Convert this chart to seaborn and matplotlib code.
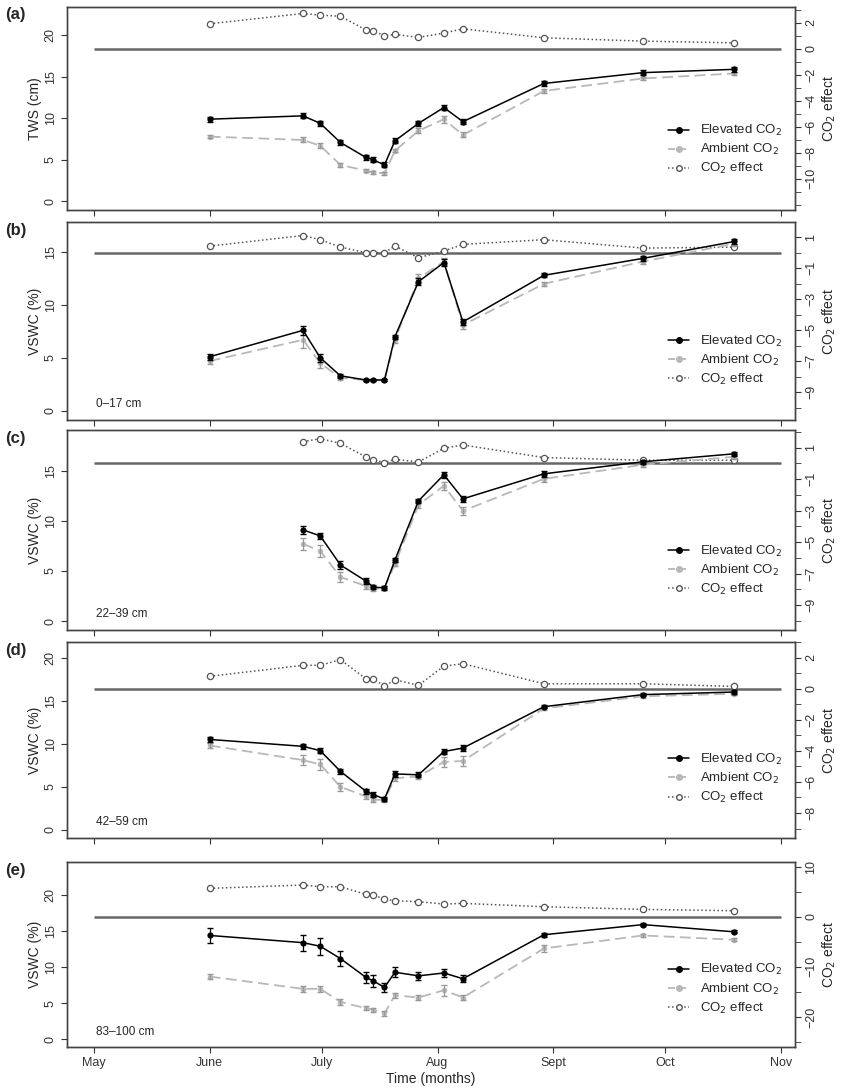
import numpy as np
import pandas as pd
import matplotlib
matplotlib.use("Agg")
import matplotlib.pyplot as plt
import seaborn as sns
from matplotlib.ticker import MultipleLocator

# sampling dates, days after 1 May
days = [31, 56, 60.6, 66, 72.8, 74.8, 77.8, 80.6, 86.9, 93.7, 98.8, 120.5, 147, 171.5]
month_days = [0, 31, 61, 92, 123, 153, 184]
month_labels = ["May", "June", "July", "Aug", "Sept", "Oct", "Nov"]

# (a) TWS
a_elev = [9.9, 10.3, 9.4, 7.1, 5.3, 5.0, 4.4, 7.3, 9.4, 11.3, 9.6, 14.2, 15.5, 15.9]
a_amb = [7.8, 7.4, 6.7, 4.4, 3.7, 3.5, 3.4, 6.1, 8.5, 9.9, 8.0, 13.3, 14.8, 15.4]
a_eff = [1.92, 2.71, 2.58, 2.5, 1.45, 1.37, 1.0, 1.1, 0.87, 1.2, 1.53, 0.84, 0.58, 0.45]
a_err_e = [0.3, 0.3, 0.3, 0.3, 0.3, 0.3, 0.3, 0.3, 0.3, 0.3, 0.3, 0.3, 0.3, 0.3]
a_err_a = [0.2, 0.3, 0.3, 0.2, 0.2, 0.2, 0.2, 0.2, 0.3, 0.4, 0.3, 0.2, 0.2, 0.2]

# (b) 0-17 cm
b_elev = [5.1, 7.6, 5.0, 3.3, 2.9, 2.9, 2.9, 7.0, 12.2, 14.0, 8.4, 12.8, 14.4, 16.0]
b_amb = [4.7, 6.7, 4.5, 3.1, 2.9, 2.9, 2.9, 6.7, 12.5, 14.1, 8.1, 12.0, 14.1, 15.8]
b_eff = [0.42, 1.1, 0.83, 0.35, 0.0, 0.0, 0.0, 0.42, -0.33, 0.1, 0.53, 0.83, 0.29, 0.35]
b_err_e = [0.3, 0.4, 0.4, 0.2, 0.1, 0.1, 0.1, 0.2, 0.3, 0.3, 0.3, 0.2, 0.2, 0.2]
b_err_a = [0.3, 0.8, 0.5, 0.2, 0.1, 0.1, 0.1, 0.3, 0.4, 0.3, 0.4, 0.2, 0.2, 0.2]

# (c) 22-39 cm (no June sample)
c_days = days[1:]
c_elev = [9.1, 8.5, 5.6, 4.0, 3.4, 3.3, 6.1, 12.0, 14.6, 12.2, 14.7, 15.9, 16.7]
c_amb = [7.7, 7.0, 4.4, 3.5, 3.2, 3.3, 5.7, 11.6, 13.5, 11.0, 14.2, 15.6, 16.4]
c_eff = [1.38, 1.57, 1.27, 0.41, 0.22, 0.05, 0.26, 0.09, 0.96, 1.17, 0.37, 0.2, 0.2]
c_err_e = [0.4, 0.3, 0.4, 0.3, 0.2, 0.2, 0.2, 0.2, 0.3, 0.3, 0.3, 0.2, 0.2]
c_err_a = [0.6, 0.6, 0.5, 0.3, 0.2, 0.2, 0.2, 0.3, 0.4, 0.4, 0.3, 0.2, 0.2]

# (d) 42-59 cm
d_elev = [10.5, 9.7, 9.2, 6.8, 4.5, 4.1, 3.6, 6.5, 6.4, 9.1, 9.5, 14.3, 15.7, 16.0]
d_amb = [9.8, 8.1, 7.6, 5.0, 3.9, 3.5, 3.5, 6.0, 6.2, 7.9, 8.0, 14.1, 15.5, 15.8]
d_eff = [0.8, 1.51, 1.51, 1.87, 0.65, 0.65, 0.17, 0.58, 0.22, 1.46, 1.61, 0.32, 0.32, 0.15]
d_err_e = [0.3, 0.3, 0.3, 0.3, 0.3, 0.3, 0.2, 0.3, 0.3, 0.3, 0.3, 0.2, 0.2, 0.2]
d_err_a = [0.3, 0.6, 0.6, 0.5, 0.3, 0.3, 0.2, 0.3, 0.3, 0.6, 0.6, 0.2, 0.2, 0.2]

# (e) 83-100 cm
e_elev = [14.4, 13.4, 12.9, 11.2, 8.6, 8.1, 7.2, 9.3, 8.8, 9.2, 8.4, 14.5, 15.9, 14.9]
e_amb = [8.7, 7.0, 7.0, 5.2, 4.3, 4.1, 3.6, 6.1, 5.8, 6.8, 5.8, 12.6, 14.4, 13.8]
e_eff = [5.67, 6.33, 6.0, 6.0, 4.47, 4.33, 3.53, 3.2, 3.0, 2.53, 2.67, 2.0, 1.47, 1.2]
e_err_e = [1.1, 1.1, 1.2, 1.0, 0.8, 0.8, 0.6, 0.7, 0.6, 0.6, 0.5, 0.3, 0.2, 0.2]
e_err_a = [0.3, 0.4, 0.4, 0.4, 0.3, 0.3, 0.3, 0.3, 0.3, 0.8, 0.3, 0.5, 0.2, 0.2]

panels = [
    dict(tag="(a)", x=days, elev=a_elev, amb=a_amb, eff=a_eff, ee=a_err_e, ea=a_err_a,
         ylab="TWS (cm)", depth=None, ylim=(-1.03, 23.4), rlim=(-12.42, 3.21),
         rticks=[2, 0, -2, -4, -6, -8, -10], rminor=1, top=7, bot=210),
    dict(tag="(b)", x=days, elev=b_elev, amb=b_amb, eff=b_eff, ee=b_err_e, ea=b_err_a,
         ylab="VSWC (%)", depth="0\u201317 cm", ylim=(-0.88, 17.84), rlim=(-10.78, 1.97),
         rticks=[1, -1, -3, -5, -7, -9], rminor=1, top=222, bot=420),
    dict(tag="(c)", x=c_days, elev=c_elev, amb=c_amb, eff=c_eff, ee=c_err_e, ea=c_err_a,
         ylab="VSWC (%)", depth="22\u201339 cm", ylim=(-0.89, 19.07), rlim=(-10.58, 2.12),
         rticks=[1, -1, -3, -5, -7, -9], rminor=1, top=430, bot=630),
    dict(tag="(d)", x=days, elev=d_elev, amb=d_amb, eff=d_eff, ee=d_err_e, ea=d_err_a,
         ylab="VSWC (%)", depth="42\u201359 cm", ylim=(-0.93, 21.8), rlim=(-9.61, 3.01),
         rticks=[2, 0, -2, -4, -6, -8], rminor=1, top=642, bot=838),
    dict(tag="(e)", x=days, elev=e_elev, amb=e_amb, eff=e_eff, ee=e_err_e, ea=e_err_a,
         ylab="VSWC (%)", depth="83\u2013100 cm", ylim=(-1.06, 24.58), rlim=(-26, 10.93),
         rticks=[10, 0, -10, -20], rminor=5, top=862, bot=1047),
]

sns.set_style("ticks")
plt.rcParams['font.family'] = ['Liberation Sans', 'DejaVu Sans']
W, H = 843, 1090
fig = plt.figure(figsize=(W / 100, H / 100), dpi=100)
amb_col = "#b8b8b8"
eff_col = "#555555"
spine_col = "#444444"

for i, p in enumerate(panels):
    ax = fig.add_axes([67 / W, 1 - p["bot"] / H, (795 - 67) / W, (p["bot"] - p["top"]) / H])
    ax2 = ax.twinx()
    df = pd.DataFrame({"day": p["x"], "elev": p["elev"], "amb": p["amb"], "eff": p["eff"]})

    ax2.hlines(0, month_days[0], month_days[-1], color="#666666", lw=1.8, zorder=1)
    sns.lineplot(data=df, x="day", y="eff", ax=ax2, color=eff_col, linestyle=":", lw=1.1,
                 marker="o", markersize=4.5, markerfacecolor="white", markeredgecolor=eff_col,
                 markeredgewidth=0.9)

    sns.lineplot(data=df, x="day", y="amb", ax=ax, color=amb_col, linestyle=(0, (6, 3)), lw=1.3,
                 marker="o", markersize=4, markeredgewidth=0, zorder=3)
    ax.errorbar(df["day"], df["amb"], yerr=p["ea"], fmt="none", ecolor="#999999",
                elinewidth=0.9, capsize=2.2, zorder=3)
    sns.lineplot(data=df, x="day", y="elev", ax=ax, color="black", lw=1.1,
                 marker="o", markersize=4.5, markeredgewidth=0, zorder=4)
    ax.errorbar(df["day"], df["elev"], yerr=p["ee"], fmt="none", ecolor="black",
                elinewidth=0.9, capsize=2.2, zorder=4)

    ax.set_xlim(-7.2, 187.7)
    ax.set_ylim(*p["ylim"])
    ax2.set_ylim(*p["rlim"])
    ax.set_xticks(month_days)
    ax.set_yticks([0, 5, 10, 15, 20] if p["ylim"][1] > 20 else [0, 5, 10, 15])
    ax2.set_yticks(p["rticks"])
    ax2.yaxis.set_minor_locator(MultipleLocator(p["rminor"]))
    for a in (ax, ax2):
        for s in a.spines.values():
            s.set_color(spine_col)
            s.set_linewidth(1.0)
        a.tick_params(colors="#333333", labelsize=9, length=4)
    ax2.tick_params(which="minor", length=4, color="#333333")
    for lab in ax.get_yticklabels():
        lab.set_rotation(90)
        lab.set_va("center")
    for lab in ax2.get_yticklabels():
        lab.set_rotation(90)
        lab.set_va("center")
    ax.set_ylabel(p["ylab"], fontsize=10, labelpad=2)
    ax2.set_ylabel("CO$_2$ effect", fontsize=10, labelpad=2)
    ax.set_zorder(ax2.get_zorder() + 1)
    ax.patch.set_visible(False)

    if i < len(panels) - 1:
        ax.set_xticklabels([])
        ax.set_xlabel("")
    else:
        ax.set_xticklabels(month_labels, fontsize=9)
        ax.set_xlabel("Time (months)", fontsize=10, labelpad=2)
    ax2.set_xlabel("")

    fig.text(5 / W, 1 - (p["top"] + 8) / H, p["tag"], fontsize=12, fontweight="bold", va="center")
    if p["depth"]:
        ax.text(0.04, 0.08, p["depth"], transform=ax.transAxes, fontsize=8.5, va="center")

    h1, = ax.plot([], [], color="black", lw=1.1, marker="o", markersize=4)
    h2, = ax.plot([], [], color=amb_col, lw=1.3, linestyle=(0, (4, 2)), marker="o", markersize=4)
    h3, = ax.plot([], [], color=eff_col, lw=1.1, linestyle=":", marker="o", markersize=4,
                  markerfacecolor="white")
    ax.legend([h1, h2, h3], ["Elevated CO$_2$", "Ambient CO$_2$", "CO$_2$ effect"],
              loc="lower right", bbox_to_anchor=(0.995, 0.12), frameon=False, fontsize=9.5,
              handlelength=1.6, labelspacing=0.3, borderpad=0.2)

fig.savefig("out.png", dpi=100)
